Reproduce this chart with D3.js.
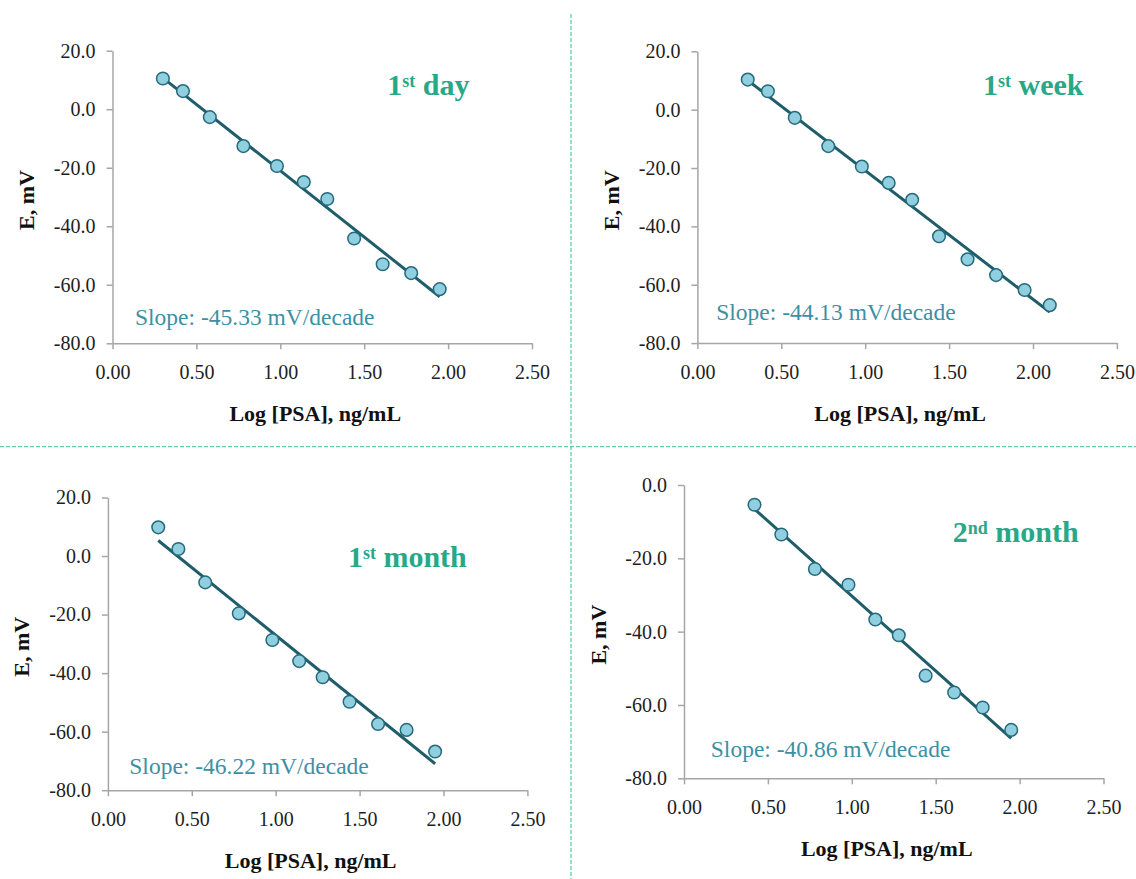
<!DOCTYPE html>
<html>
<head>
<meta charset="utf-8">
<script src="https://cdn.jsdelivr.net/npm/d3@7"></script>
<style>
  html, body { margin: 0; padding: 0; background: #fff; }
  svg { display: block; }
  text { font-family: "Liberation Serif", "Times New Roman", serif; }
</style>
</head>
<body>
<svg id="chart" width="1136" height="879"></svg>
<script>
// Log [PSA] levels of the calibration standards (ng/mL)
const logPSA = [0.30, 0.42, 0.58, 0.78, 0.98, 1.14, 1.28, 1.44, 1.61, 1.78, 1.95, 2.10];

// Measured potentials (mV) for each ageing stage
const day1E   = [10.5, 6.2, -2.7, -12.6, -19.4, -24.9, -30.7, -44.2, -53.0, -56.0, -61.5];
const week1E  = [10.3, 6.3, -2.8, -12.5, -19.5, -25.1, -30.9, -43.4, -51.3, -56.7, -61.8, -67.0];
const month1E = [9.8, 2.4, -9.0, -19.6, -28.7, -35.9, -41.4, -49.8, -57.4, -59.4, -66.8];
const month2E = [-5.4, -13.5, -22.9, -27.2, -36.7, -41.0, -52.0, -56.6, -60.7, -66.8];

// Which standards each stage covers
const day1X   = logPSA.slice(0, 11);
const week1X  = logPSA.slice(0, 12);
const month1X = logPSA.slice(0, 11);
const month2X = logPSA.slice(1, 11);

// Nernstian slopes (mV/decade)
const slopes = [-45.33, -44.13, -46.22, -40.86];

// Stage labels: number, ordinal suffix, word
const stageNum    = ["1", "1", "1", "2"];
const stageSuffix = ["st", "st", "st", "nd"];
const stageWord   = ["day", "week", "month", "month"];

// Axis ticks
const xTicks      = [0, 0.5, 1.0, 1.5, 2.0, 2.5];
const yTicksFull  = [20, 0, -20, -40, -60, -80];
const yTicksLower = [0, -20, -40, -60, -80];

const xTitle = "Log [PSA], ng/mL";
const yTitle = "E, mV";

// Panel layout (pixels)
const panels = [
  { x: day1X,   y: day1E,   yTicks: yTicksFull,  left: 112.5, top: 50.7,  h: 292.6, title: [274.8, 44.3], slopeAt: [22.5, 274.5] },
  { x: week1X,  y: week1E,  yTicks: yTicksFull,  left: 697.4, top: 51.3,  h: 291.8, title: [285.6, 43.7], slopeAt: [18.8, 269.0] },
  { x: month1X, y: month1E, yTicks: yTicksFull,  left: 107.9, top: 497.5, h: 292.7, title: [240.0, 69.2], slopeAt: [21.4, 276.5] },
  { x: month2X, y: month2E, yTicks: yTicksLower, left: 684.0, top: 485.0, h: 293.3, title: [268.7, 56.7], slopeAt: [26.8, 271.7] }
];
const plotW = 419.5;

const C = {
  axis: "#a6a6a6",
  tickText: "#1e1e1e",
  line: "#1f5d6a",
  markerFill: "#8fcfe0",
  markerStroke: "#25697a",
  title: "#27a887",
  slope: "#3d90a4",
  divider: "#5fcfa4"
};

const svg = d3.select("#chart");

// Quadrant dividers
svg.append("line")
  .attr("x1", 571).attr("x2", 571).attr("y1", 14).attr("y2", 879)
  .attr("stroke", C.divider).attr("stroke-width", 1.3).attr("stroke-dasharray", "4,2");
svg.append("line")
  .attr("x1", 0).attr("x2", 1136).attr("y1", 446.7).attr("y2", 446.7)
  .attr("stroke", C.divider).attr("stroke-width", 1.3).attr("stroke-dasharray", "4,2");

panels.forEach((p, i) => {
  const g = svg.append("g").attr("transform", `translate(${p.left},${p.top})`);

  const x = d3.scaleLinear().domain([0, 2.5]).range([0, plotW]);
  const yDom = d3.extent(p.yTicks);
  const y = d3.scaleLinear().domain(yDom).range([p.h, 0]);

  // Axes
  const xAxis = d3.axisBottom(x).tickValues(xTicks).tickSize(6).tickSizeOuter(0)
    .tickPadding(10).tickFormat(d => d.toFixed(2));
  const yAxis = d3.axisLeft(y).tickValues(p.yTicks).tickSize(6).tickSizeOuter(0)
    .tickPadding(11).tickFormat(d => d.toFixed(1));

  const gx = g.append("g").attr("transform", `translate(0,${p.h})`).call(xAxis);
  const gy = g.append("g").call(yAxis);
  [gx, gy].forEach(a => {
    a.attr("font-family", null);
    a.select(".domain").attr("stroke", C.axis).attr("stroke-width", 1.5);
    a.selectAll(".tick line").attr("stroke", C.axis).attr("stroke-width", 1.5);
    a.selectAll(".tick text")
      .attr("fill", C.tickText)
      .style("font-family", '"Liberation Serif", "Times New Roman", serif')
      .style("font-size", "20px");
  });
  gx.selectAll(".tick text").attr("dy", "1.0em");

  // Axis titles
  g.append("text")
    .attr("x", plotW / 2 - 7).attr("y", p.h + 77.5)
    .attr("text-anchor", "middle")
    .style("font-size", "22px").style("font-weight", "bold").attr("fill", "#111")
    .text(xTitle);
  g.append("text")
    .attr("transform", `translate(${-78.5},${p.h / 2 + 3}) rotate(-90)`)
    .attr("text-anchor", "middle")
    .style("font-size", "22px").style("font-weight", "bold").attr("fill", "#111")
    .text(yTitle);

  // Fitted calibration line: fixed slope through the centroid
  const b = slopes[i];
  const a = d3.mean(p.y) - b * d3.mean(p.x);
  const [x0, x1] = d3.extent(p.x);
  const fit = [x0, x1].map(v => [v, a + b * v]);
  g.append("path")
    .datum(fit)
    .attr("d", d3.line().x(d => x(d[0])).y(d => y(d[1])))
    .attr("fill", "none").attr("stroke", C.line).attr("stroke-width", 3);

  // Measured points
  g.selectAll("circle.pt")
    .data(p.x.map((v, k) => [v, p.y[k]]))
    .join("circle")
    .attr("class", "pt")
    .attr("cx", d => x(d[0])).attr("cy", d => y(d[1]))
    .attr("r", 6.3)
    .attr("fill", C.markerFill).attr("stroke", C.markerStroke).attr("stroke-width", 1.5);

  // Stage label with superscript ordinal
  const t = g.append("text")
    .attr("x", p.title[0]).attr("y", p.title[1])
    .style("font-weight", "bold").attr("fill", C.title);
  t.append("tspan").style("font-size", "30px").text(stageNum[i]);
  t.append("tspan").style("font-size", "18px").attr("dy", -8).text(stageSuffix[i]);
  t.append("tspan").style("font-size", "30px").attr("dy", 8).text("\u00a0" + stageWord[i]);

  // Slope annotation
  g.append("text")
    .attr("x", p.slopeAt[0]).attr("y", p.slopeAt[1])
    .style("font-size", "23.5px").attr("fill", C.slope)
    .text(`Slope: ${slopes[i].toFixed(2)} mV/decade`);
});
</script>
</body>
</html>
